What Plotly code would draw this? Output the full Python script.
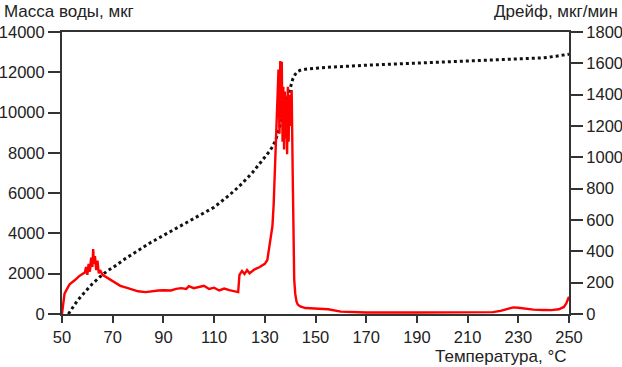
import plotly.graph_objects as go

# Mass of water (left axis, µg) — dotted black
mass_t = [52.5, 54, 56, 58, 60, 62, 65, 68, 70, 75, 80, 85, 90, 95, 100, 105, 110, 116, 120, 125, 128, 130, 132, 133, 134, 135, 136, 137, 138, 139, 140, 141, 142, 143, 144, 146, 150, 155, 170, 190, 210, 230, 240, 245, 250]
mass_v = [0, 300, 650, 950, 1250, 1500, 1850, 2150, 2300, 2750, 3150, 3550, 3900, 4250, 4600, 4950, 5300, 5900, 6350, 7000, 7450, 7750, 8100, 8300, 8550, 8900, 9350, 9850, 10350, 10800, 11250, 11650, 11900, 12050, 12100, 12150, 12200, 12250, 12350, 12450, 12550, 12650, 12720, 12800, 12900]

# Drift (right axis, µg/min) — red
drift_t = [50, 50.5, 51, 52, 53, 55, 57, 59, 59.5, 60, 60.5, 61, 61.5, 62, 62.3, 62.6, 63, 63.5, 64, 64.5, 65, 66, 68, 70, 73, 76, 80, 83, 85, 88, 90, 93, 95, 97, 99, 100, 102, 104, 106, 108, 110, 112, 114, 116, 118, 119.5, 120, 121, 122, 123, 124, 126, 128, 130, 131, 131.5, 132, 132.5, 133, 133.5, 134, 134.5, 135, 135.4, 135.8, 136.1, 136.4, 136.7, 137, 137.3, 137.6, 137.9, 138.2, 138.5, 138.8, 139.1, 139.4, 139.7, 140, 140.3, 140.6, 141, 141.3, 141.6, 142, 142.5, 143, 144, 146, 150, 155, 160, 170, 190, 210, 220, 223, 226, 228, 230, 233, 236, 240, 243, 246, 248, 249, 250]
drift_v = [0, 80, 130, 160, 190, 215, 245, 265, 300, 250, 320, 270, 360, 300, 415, 320, 370, 280, 340, 260, 280, 250, 230, 205, 180, 165, 145, 140, 145, 150, 152, 150, 160, 165, 160, 178, 165, 172, 180, 160, 168, 150, 162, 152, 145, 140, 250, 275, 255, 280, 260, 285, 300, 320, 345, 400, 450, 520, 560, 700, 900, 1150, 1350, 1560, 1150, 1615, 1250, 1610, 1100, 1450, 1050, 1420, 1120, 1380, 1020, 1450, 1100, 1400, 1200, 1420, 1430, 900, 450, 220, 130, 80, 60, 48, 38, 33, 30, 15, 10, 10, 10, 12, 20, 35, 42, 40, 32, 28, 26, 25, 30, 45, 70, 110]

x_ticks = list(range(50, 251, 20))

fig = go.Figure()
fig.add_trace(go.Scatter(x=drift_t, y=drift_v, yaxis="y2", mode="lines",
                         line=dict(color="#ff0000", width=2.4), showlegend=False))
fig.add_trace(go.Scatter(x=mass_t, y=mass_v, yaxis="y", mode="lines",
                         line=dict(color="#111111", width=3, dash="3px,3px"), showlegend=False))

tick_font = dict(family="Liberation Sans, Arial, sans-serif", size=16.5, color="#222222")
title_font = dict(family="Liberation Sans, Arial, sans-serif", size=17, color="#222222")
axis_common = dict(showgrid=False, zeroline=False, showline=True, linewidth=2,
                   linecolor="#333333", ticks="outside", tickwidth=2, tickcolor="#333333",
                   tickfont=tick_font, automargin=False)

# plot area spans x 62..569, y 32..314 in the window
PW, PH = 507, 282
fig.update_layout(
    width=622, height=367,
    margin=dict(l=62, r=53, t=32, b=53),
    paper_bgcolor="white", plot_bgcolor="white",
    xaxis=dict(range=[50, 250], tickvals=x_ticks, ticklen=7, mirror=True, **axis_common),
    yaxis=dict(range=[0, 14000], dtick=2000, tickformat="d", ticklen=12, **axis_common),
    yaxis2=dict(range=[0, 1800], dtick=200, tickformat="d", ticklen=12, overlaying="y", side="right", **axis_common),
    annotations=[
        dict(text="Масса воды, мкг", xref="paper", yref="paper", x=-60/PW, y=1 + 20/PH,
             xanchor="left", yanchor="middle", showarrow=False, font=title_font),
        dict(text="Дрейф, мкг/мин", xref="paper", yref="paper", x=1 + 51/PW, y=1 + 20/PH,
             xanchor="right", yanchor="middle", showarrow=False, font=title_font),
        dict(text="Температура, °C", xref="paper", yref="paper", x=1 - 1/PW, y=-42/PH,
             xanchor="right", yanchor="middle", showarrow=False, font=title_font),
    ],
)

fig.write_html("out.html", config={"displayModeBar": False},
               post_script="document.body.style.margin='0';")
